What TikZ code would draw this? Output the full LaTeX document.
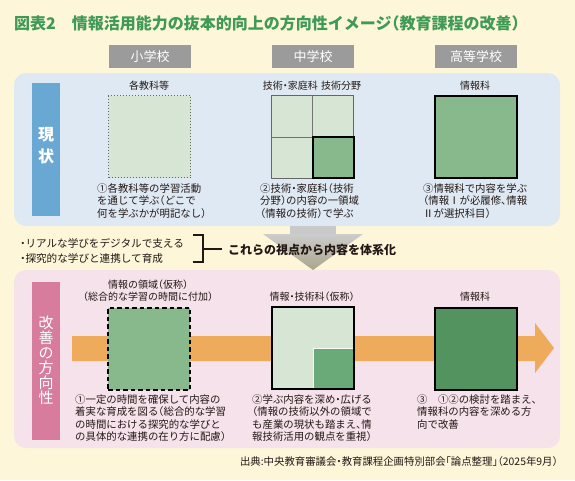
\documentclass[tikz,border=0pt]{standalone}
\usepackage{fontspec}
\setmainfont{Noto Sans CJK JP}[RawFeature=+halt]
\newcommand{\prop}[1]{{\addfontfeature{RawFeature=+palt}#1}}
\definecolor{bg}{HTML}{FDF6D9}
\definecolor{bluebg}{HTML}{DFE9F3}
\definecolor{bluelab}{HTML}{6AA8D4}
\definecolor{pinkbg}{HTML}{F5E2EA}
\definecolor{pinklab}{HTML}{D77C9C}
\definecolor{hdrgray}{HTML}{9B9B9B}
\definecolor{lightg}{HTML}{D7E6D4}
\definecolor{midg}{HTML}{87B98C}
\definecolor{midg2}{HTML}{6AAA78}
\definecolor{darkg}{HTML}{53935F}
\definecolor{orng}{HTML}{EEAB5C}
\definecolor{titleg}{HTML}{3F9A55}
\definecolor{txt}{HTML}{231815}
\definecolor{tan}{HTML}{ABA58C}
\begin{document}
\begin{tikzpicture}[x=1pt,y=-1pt,
  every node/.style={inner sep=0pt, text=txt},
  titletext/.style={font=\fontsize{16}{18}\selectfont\bfseries, text=titleg},
  hdr/.style={fill=hdrgray, minimum width=82pt, minimum height=23pt, text=white, font=\fontsize{13}{15}\selectfont},
  panel/.style={rounded corners=12pt},
  lab/.style={font=\fontsize{10}{12}\selectfont},
  body/.style={font=\fontsize{10.4}{12.6}\selectfont, align=left, anchor=north west},
  sq/.style={minimum width=82pt, minimum height=82pt},
  sidetext/.style={text=white, align=center}
]
\useasboundingbox (0,0) rectangle (575,480);
\fill[bg] (0,0) rectangle (575,480);

% title
\node[titletext, anchor=west] (title) at (14,23) {図表2　情報活用能力の抜本的向上の方向性イメージ（教育課程の改善）};

% headers
\node[hdr] (h1) at (150,56.5) {小学校};
\node[hdr] (h2) at (313,56.5) {中学校};
\node[hdr] (h3) at (476,56.5) {高等学校};

% current panel
\path[panel, fill=bluebg] (14,73) rectangle (560,226);
\node[fill=bluelab, minimum width=28pt, minimum height=133pt] (nowlab) at (46,149.5) {};
\node[sidetext, font=\fontsize{16}{22}\selectfont\bfseries] (nowtxt) at (46,146) {現\\状};

% down arrow
\path[fill=gray!42] (290,226) rectangle (336,234.5);
\path[top color=black!20!white, bottom color=tan] (263,234) -- (363,234) -- (313,270) -- cycle;

% improvement panel
\path[panel, fill=pinkbg] (14,270) rectangle (560,448);
\node[fill=pinklab, minimum width=28pt, minimum height=158pt] (futlab) at (46,361) {};
\node[sidetext, font=\fontsize{15}{15}\selectfont] (futtxt) at (46,360.5) {改\\善\\の\\方\\向\\性};

% orange arrow
\fill[orng] (72,336) -- (535,336) -- (535,323) -- (554,348) -- (535,373) -- (535,361) -- (72,361) -- cycle;

% current: elementary
\node[lab] (l1) at (149,86) {各教科等};
\node[sq, fill=lightg, draw=black!60, dotted, line width=1pt] (s1) at (149.5,136.5) {};
\node[body] (t1) at (97,183) {①各教科等の学習活動\\を通じて学ぶ（どこで\\何を学ぶかが明記なし）};

% current: junior high
\node[lab] (l2) at (312,86) {技術・家庭科\,\,技術分野};
\node[sq, fill=lightg] (s2) at (312.5,137) {};
\draw[black!55, line width=1pt] (s2.north) -- (s2.south) (s2.west) -- (s2.east);
\draw[black!60, line width=1.2pt] (s2.north west) rectangle (s2.south east);
\draw[black, line width=2pt, fill=midg] (s2.center) rectangle (s2.south east);
\node[body] (t2) at (260,183) {②技術・家庭科（技術\\分野）の内容の一領域\\（情報の技術）で学ぶ};

% current: high
\node[lab] (l3) at (475,86) {情報科};
\node[sq, fill=midg, draw=black, line width=2pt] (s3) at (475.5,137) {};
\node[body] (t3) at (423,183) {③情報科で内容を学ぶ\\（情報\prop{Ⅰ}が必履修、情報\\\prop{Ⅱ}が選択科目）};

% middle strip
\node[font=\fontsize{10.6}{12}\selectfont, anchor=west] (b1) at (20,243) {・リアルな学びをデジタルで支える};
\node[font=\fontsize{10.6}{12}\selectfont, anchor=west] (b2) at (20,258) {・探究的な学びと連携して育成};
\coordinate (bt) at (203,235);
\coordinate (bb) at (203,262);
\coordinate (bm) at (203,249);
\draw[line width=1.3pt, txt] ([xshift=-10pt]bt) -- (bt) -- (bb) -- ([xshift=-10pt]bb);
\node[font=\fontsize{12}{14}\selectfont\bfseries, anchor=west] (sys) at (228,250) {これらの視点から内容を体系化};
\draw[line width=1.3pt, txt] (bm) -- ([xshift=-6pt]bm -| sys.west);

% improvement: 1
\node[lab] (l4a) at (148,285) {情報の領域（仮称）};
\node[lab] (l4b) at (148,297) {（総合的な学習の時間に付加）};
\node[sq, fill=midg, draw=black, dashed, dash pattern=on 4.5pt off 3pt, line width=2pt] (s4) at (149,348.5) {};
\node[body] (t4) at (75,394) {①一定の時間を確保して内容の\\着実な育成を図る（総合的な学習\\の時間における探究的な学びと\\の具体的な連携の在り方に配慮）};

% improvement: 2
\node[lab] (l5) at (312,297) {情報・技術科（仮称）};
\node[sq, fill=lightg] (s5) at (313,348) {};
\draw[white!85!lightg, line width=1pt, fill=midg2] (s5.center) rectangle (s5.south east);
\draw[black, line width=2pt] (s5.north west) rectangle (s5.south east);
\node[body] (t5) at (252,394) {②学ぶ内容を深め・広げる\\（情報の技術以外の領域で\\も産業の現状も踏まえ、情\\報技術活用の観点を重視）};

% improvement: 3
\node[lab] (l6) at (475,297) {情報科};
\node[sq, fill=darkg, draw=black, line width=2pt] (s6) at (475.5,348.5) {};
\node[body] (t6) at (417,394) {③　①②の検討を踏まえ、\\情報科の内容を深める方\\向で改善};

% source
\node[font=\fontsize{10.4}{12}\selectfont, anchor=east] (src) at (558,462) {出典:中央教育審議会・教育課程企画特別部会「論点整理」（2025年9月）};
\end{tikzpicture}
\end{document}
